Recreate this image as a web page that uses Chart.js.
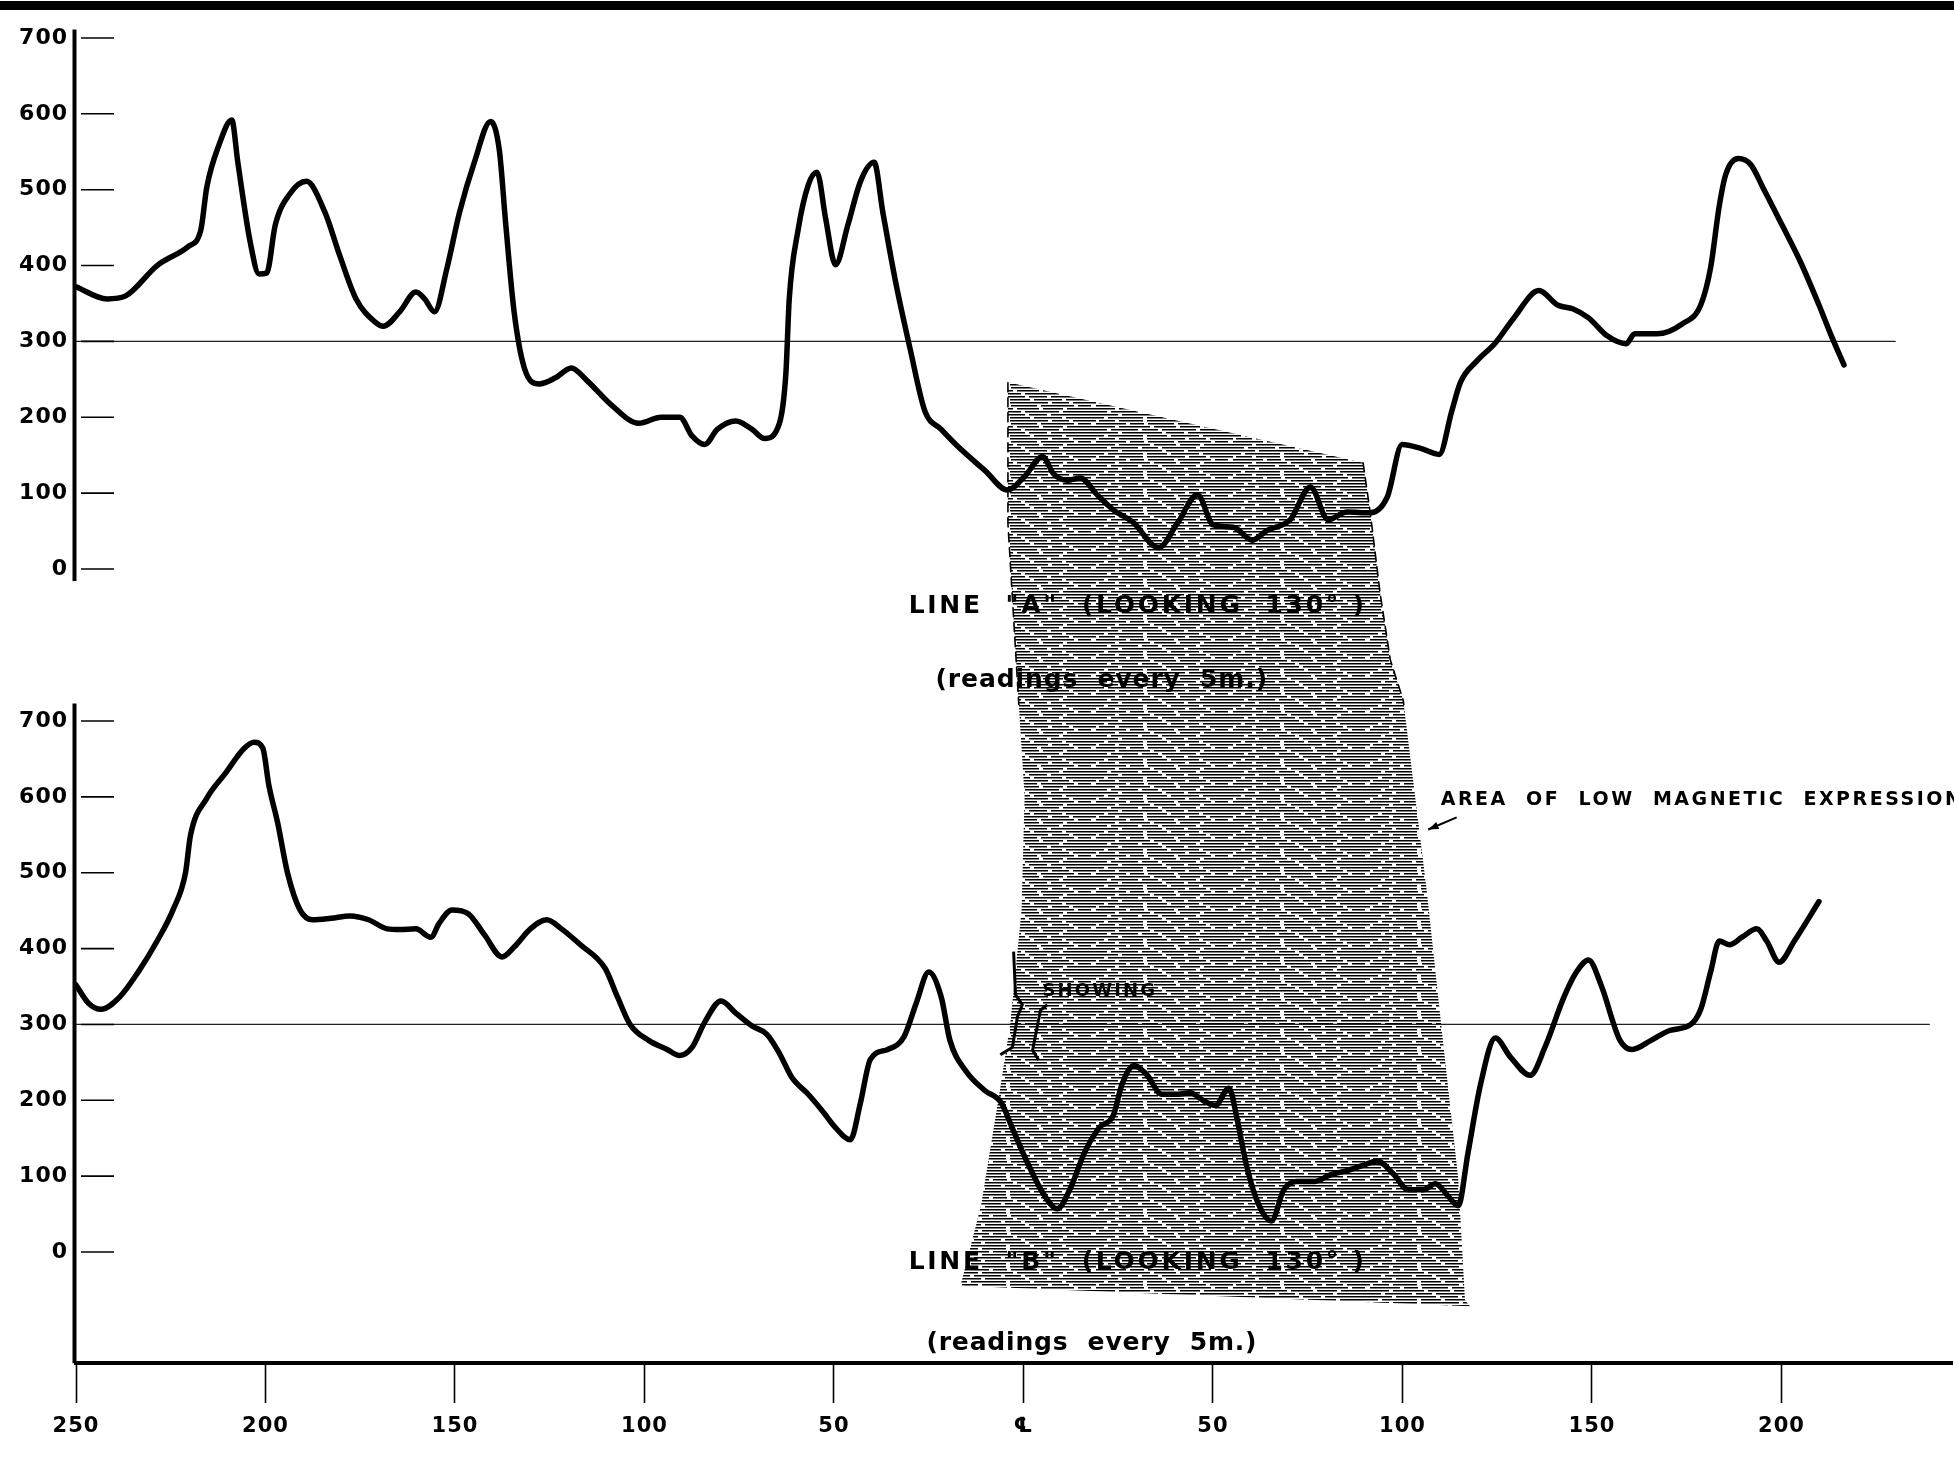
<!DOCTYPE html>
<html>
<head>
<meta charset="utf-8">
<script src="https://cdn.jsdelivr.net/npm/chart.js@4.4.1/dist/chart.umd.min.js"></script>
<style>
  html, body { margin: 0; padding: 0; background: #fff; }
</style>
</head>
<body>
<canvas id="grafica" width="1954" height="1460"></canvas>
<script>
// line "A" : distance from centre line (m, west negative) and reading
const posA = [-250, -241.8, -236.9, -228.6, -220.4, -217.1, -215.5, -212.2, -208.9, -207.3, -204.0, -201.7, -199.7, -197.4,
  -193.5, -189.2, -184.3, -180.4, -176.1, -171.2, -168.9, -164.6, -160.3, -158.0, -155.4, -152.1, -148.8, -144.9, -140.6,
  -138.3, -136.6, -134.4, -131.7, -127.8, -123.5, -119.3, -115.3, -108.7, -101.5, -95.6, -90.7, -87.4, -84.1, -80.8,
  -75.9, -71.6, -68.3, -64.4, -62.7, -61.8, -59.5, -56.8, -54.5, -52.2, -49.6, -46.3, -43.0, -39.4, -37.1, -33.8,
  -29.9, -26.0, -21.7, -16.8, -10.2, -4.2, 0.3, 5.0, 8.0, 11.6, 15.0, 19.4, 23.7, 29.0, 35.6, 40.7, 45.9, 50.1,
  55.4, 60.4, 64.3, 70.4, 75.7, 80.4, 85.4, 91.5, 96.0, 99.9, 104.8, 109.7, 113.0, 115.3, 119.6, 124.5, 129.4,
  136.0, 140.9, 144.9, 149.1, 154.1, 159.0, 161.3, 167.2, 173.8, 178.7, 181.3, 183.6, 185.3, 188.6, 191.9, 195.1,
  200.1, 205.0, 209.9, 213.2, 216.5];
const magA = [372, 356, 360, 400, 425, 446, 503, 560, 592, 536, 430, 389, 390, 454,
  495, 511, 470, 413, 356, 326, 320, 339, 365, 356, 339, 397, 470, 536, 590,
  552, 454, 339, 265, 244, 252, 265, 249, 216, 192, 200, 200, 175, 164, 184,
  195, 184, 172, 192, 257, 356, 446, 506, 523, 462, 401, 454, 511, 536, 470, 380,
  290, 208, 184, 159, 130, 104, 122, 148, 125, 117, 120, 98, 78, 61, 28, 61, 98, 58,
  55, 38, 51, 65, 108, 65, 75, 74, 95, 164, 159, 151, 208, 246, 274, 298, 331,
  367, 348, 343, 331, 307, 297, 310, 310, 323, 348, 397, 479, 520, 541, 533, 503,
  454, 405, 348, 307, 269];

// line "B"
const posB = [-250, -246.7, -243.4, -238.5, -233.6, -228.6, -224.4, -221.1, -219.8, -215.5, -210.6, -205.6, -203.0, -200.7,
  -199.1, -196.8, -194.2, -190.9, -187.6, -182.7, -177.7, -172.8, -167.9, -164.6, -160.3, -156.4, -154.1, -150.8,
  -146.5, -142.2, -137.6, -134.4, -130.1, -125.8, -121.9, -116.9, -110.4, -107.1, -103.8, -98.9, -94.0, -90.7, -87.4,
  -84.1, -79.8, -75.9, -71.6, -67.7, -64.4, -61.1, -56.8, -52.9, -49.6, -45.7, -43.0, -40.4, -35.8, -31.5, -28.3,
  -25.0, -21.7, -19.4, -15.1, -10.2, -5.9, -3.0, 1.3, 5.6, 8.9, 12.2, 16.1, 20.0, 23.7, 26.0, 29.2, 32.5, 36.5,
  40.7, 44.0, 47.3, 50.6, 54.2, 56.5, 58.8, 62.1, 65.4, 68.7, 72.0, 76.9, 81.1, 85.1, 90.0, 93.3, 97.6, 101.5,
  105.5, 108.7, 112.0, 114.7, 117.3, 120.6, 124.5, 128.5, 133.7, 137.6, 142.6, 145.9, 149.1, 152.4, 157.4, 160.6,
  165.6, 170.5, 176.1, 178.7, 181.3, 183.6, 186.3, 189.6, 193.5, 196.1, 199.4, 203.4, 209.9];
const magB = [352, 328, 320, 336, 369, 410, 451, 500, 549, 598, 631, 664, 672, 664,
  615, 566, 500, 451, 438, 440, 443, 438, 426, 425, 426, 415, 434, 451,
  446, 418, 389, 402, 426, 438, 426, 405, 374, 336, 300, 279, 267, 259, 270,
  303, 331, 315, 298, 287, 262, 230, 208, 185, 164, 148, 197, 254, 267, 284, 328,
  369, 336, 279, 238, 213, 197, 164, 115, 74, 57, 82, 131, 164, 180, 221, 246, 234, 208,
  208, 210, 200, 193, 216, 172, 115, 62, 41, 82, 93, 93, 102, 107, 115, 120, 103, 82,
  82, 90, 74, 61, 131, 221, 282, 257, 233, 270, 336, 369, 385, 352, 279, 267,
  279, 292, 300, 320, 369, 410, 405, 415, 426, 410, 382, 410, 462];

// area of low magnetic expression (outline, in line A units)
const zoneX = [-4.1, 89.6, 91.5, 94.1, 96.8, 100.2, 106.4, 110.5, 114.7, 116.5, 117.8, -16.6, -11.2, -6.6, -3.5, -0.5, 0.3, -1.3, -4.1, -4.1];
const zoneY = [246, 140, 74, -32, -120, -173, -424, -614, -803, -964, -972, -945, -839, -699, -600, -450, -300, -173, 60, 246];

// base level and ticks
const refLevel = 300;
const yTickValues = [0, 100, 200, 300, 400, 500, 600, 700];
const xTickValues = [-250, -200, -150, -100, -50, 0, 50, 100, 150, 200];
const xTickLabels = ['250', '200', '150', '100', '50', '\u2104', '50', '100', '150', '200'];

const pts = (xs, ys) => xs.map((x, i) => ({ x: x, y: ys[i] }));
const FONT = "'DejaVu Sans', sans-serif";

const canvas = document.getElementById('grafica');
const ctx = canvas.getContext('2d');

// hatch for the shaded area: broken horizontal strokes
function hatch() {
    const rows = [
        [[0, 22], [26, 40], [70, 18], [92, 45]],
        [[0, 8], [12, 35], [51, 20], [75, 28], [107, 30]],
        [[3, 16], [23, 24], [51, 38], [93, 17], [114, 23]],
        [[0, 30], [34, 14], [52, 26], [82, 33], [119, 13]],
        [[0, 19], [23, 31], [58, 22], [84, 20], [108, 29]],
        [[0, 11], [15, 27], [46, 16], [66, 34], [104, 33]]
    ];
    const c = document.createElement('canvas');
    c.width = 137; c.height = 18;
    const g = c.getContext('2d');
    g.fillStyle = '#000';
    rows.forEach((r, i) => r.forEach(d => g.fillRect(d[0], i * 3, d[1], 1.5)));
    return ctx.createPattern(c, 'repeat');
}

// texts over the chart (positions in data units)
const notes = [
    { t: 'LINE  "A"  (LOOKING  130\u00b0 )', x0: -30.3, x1: 90.5, y: -50, ax: 'yA', f: 'bold 25px ' + FONT },
    { t: '(readings  every  5m.)', x0: -23.2, x1: 64.5, y: -147, ax: 'yA', f: 'bold 25px ' + FONT },
    { t: 'LINE  "B"  (LOOKING  130\u00b0 )', x0: -30.3, x1: 90.5, y: -14, ax: 'yB', f: 'bold 25px ' + FONT },
    { t: '(readings  every  5m.)', x0: -25.6, x1: 61.7, y: -120, ax: 'yB', f: 'bold 25px ' + FONT },
    { t: 'AREA  OF  LOW  MAGNETIC  EXPRESSION', x0: 110.1, x1: 248, y: 596, ax: 'yB', f: 'bold 19px ' + FONT },
    { t: 'SHOWING', x0: 5.0, x1: 35.3, y: 343, ax: 'yB', f: 'bold 18px ' + FONT }
];

const decor = {
    id: 'decor',
    beforeDraw(chart) { chart.ctx.letterSpacing = '1px'; },
    afterDraw(chart) {
        const c = chart.ctx, xs = chart.scales.x, area = chart.chartArea;
        const X = v => xs.getPixelForValue(v);
        c.save();
        c.letterSpacing = '0px';
        c.fillStyle = '#000';
        c.strokeStyle = '#000';

        // top border of the sheet
        c.fillRect(0, 1, chart.width, 9);

        // vertical axes and inner ticks
        [['yA', 711, -16], ['yB', 723, -146.5]].forEach(([id, top, bot]) => {
            const s = chart.scales[id];
            c.lineWidth = 4;
            c.beginPath();
            c.moveTo(area.left - 1.5, s.getPixelForValue(top));
            c.lineTo(area.left - 1.5, s.getPixelForValue(bot));
            c.stroke();
            c.lineWidth = 1.6;
            yTickValues.forEach(v => {
                const y = s.getPixelForValue(v);
                c.beginPath();
                c.moveTo(area.left + 5, y);
                c.lineTo(area.left + 38, y);
                c.stroke();
            });
        });

        // labels
        c.textBaseline = 'middle';
        c.textAlign = 'left';
        notes.forEach(n => {
            const s = chart.scales[n.ax];
            c.font = n.f;
            c.letterSpacing = '0px';
            const w = c.measureText(n.t).width;
            const sp = (X(n.x1) - X(n.x0) - w) / n.t.length;
            c.letterSpacing = sp.toFixed(2) + 'px';
            c.fillText(n.t, X(n.x0), s.getPixelForValue(n.y));
        });

        // arrow to the shaded area
        const yb = chart.scales.yB;
        const ax0 = X(114.3), ay0 = yb.getPixelForValue(573), ax1 = X(106.8), ay1 = yb.getPixelForValue(557);
        c.lineWidth = 2;
        c.beginPath(); c.moveTo(ax0, ay0); c.lineTo(ax1, ay1); c.stroke();
        const ang = Math.atan2(ay1 - ay0, ax1 - ax0);
        c.beginPath();
        c.moveTo(ax1, ay1);
        c.lineTo(ax1 - 11 * Math.cos(ang - 0.35), ay1 - 11 * Math.sin(ang - 0.35));
        c.lineTo(ax1 - 11 * Math.cos(ang + 0.35), ay1 - 11 * Math.sin(ang + 0.35));
        c.closePath(); c.fill();

        // "showing" brackets
        c.lineWidth = 3;
        c.lineJoin = 'round';
        [[[-2.6, 396], [-2.1, 339], [-0.3, 326], [-1.6, 310], [-2.9, 270], [-6.1, 260]],
         [[6.3, 326], [4.5, 319], [2.4, 266], [4.0, 253]]].forEach(br => {
            c.beginPath();
            br.forEach((p, i) => {
                const px = X(p[0]), py = yb.getPixelForValue(p[1]);
                if (i === 0) c.moveTo(px, py); else c.lineTo(px, py);
            });
            c.stroke();
        });
        c.restore();
    }
};

const tickFont = { family: FONT, size: 22, weight: 'bold' };

const yAxis = (min, max, weight) => ({
    type: 'linear', position: 'left', stack: 'perfil', stackWeight: weight,
    min: min, max: max,
    afterBuildTicks: s => { s.ticks = yTickValues.map(v => ({ value: v })); },
    afterFit: s => { s.width = 76; s.paddingTop = 0; s.paddingBottom = 0; },
    ticks: { color: '#000', font: tickFont, padding: 8 },
    grid: { display: false, drawTicks: false },
    border: { display: false }
});

const edge = (from, to) => ({
    data: pts(zoneX.slice(from, to), zoneY.slice(from, to)), yAxisID: 'yA', order: 8,
    tension: 0, cubicInterpolationMode: 'default', borderColor: '#000', borderWidth: 1.6, borderDash: [9, 6]
});

new Chart(ctx, {
    type: 'line',
    data: {
        datasets: [
            { data: pts(posA, magA), yAxisID: 'yA', borderColor: '#000', borderWidth: 5.5, order: 1 },
            { data: pts(posB, magB), yAxisID: 'yB', borderColor: '#000', borderWidth: 5.5, order: 1 },
            { data: pts([-250, 230], [refLevel, refLevel]), yAxisID: 'yA', borderColor: '#222', borderWidth: 1.3, order: 5 },
            { data: pts([-250, 239], [refLevel, refLevel]), yAxisID: 'yB', borderColor: '#222', borderWidth: 1.3, order: 5 },
            {
                data: pts(zoneX, zoneY), yAxisID: 'yA', order: 10,
                fill: 'shape', backgroundColor: hatch(), tension: 0, cubicInterpolationMode: 'default',
                borderWidth: 0, borderColor: 'rgba(0,0,0,0)'
            },
            edge(1, 11),
            edge(11, 20)
        ]
    },
    options: {
        responsive: false,
        animation: false,
        devicePixelRatio: 1,
        layout: { padding: { top: 8, right: 2, left: 0, bottom: 0 } },
        elements: {
            point: { radius: 0 },
            line: { cubicInterpolationMode: 'monotone', borderJoinStyle: 'round', borderCapStyle: 'round', fill: false }
        },
        plugins: { legend: { display: false }, tooltip: { enabled: false } },
        scales: {
            x: {
                type: 'linear', min: -250, max: 245,
                afterBuildTicks: s => { s.ticks = xTickValues.map(v => ({ value: v })); },
                afterFit: s => { s.height = 97; },
                ticks: {
                    color: '#000', font: { family: FONT, size: 21, weight: 'bold' }, padding: 11,
                    maxRotation: 0, autoSkip: false,
                    callback: v => xTickLabels[xTickValues.indexOf(v)]
                },
                grid: { display: true, drawOnChartArea: false, drawTicks: true, tickLength: 40, tickWidth: 1.6, tickColor: '#000' },
                border: { display: true, width: 4, color: '#000' }
            },
            // left boxes are stacked in reverse order, so the lower panel comes first
            yB: yAxis(-146.3, 721.1, 867.4),
            yA: yAxis(-179.3, 739.5, 918.8)
        }
    },
    plugins: [decor]
});
</script>
</body>
</html>
